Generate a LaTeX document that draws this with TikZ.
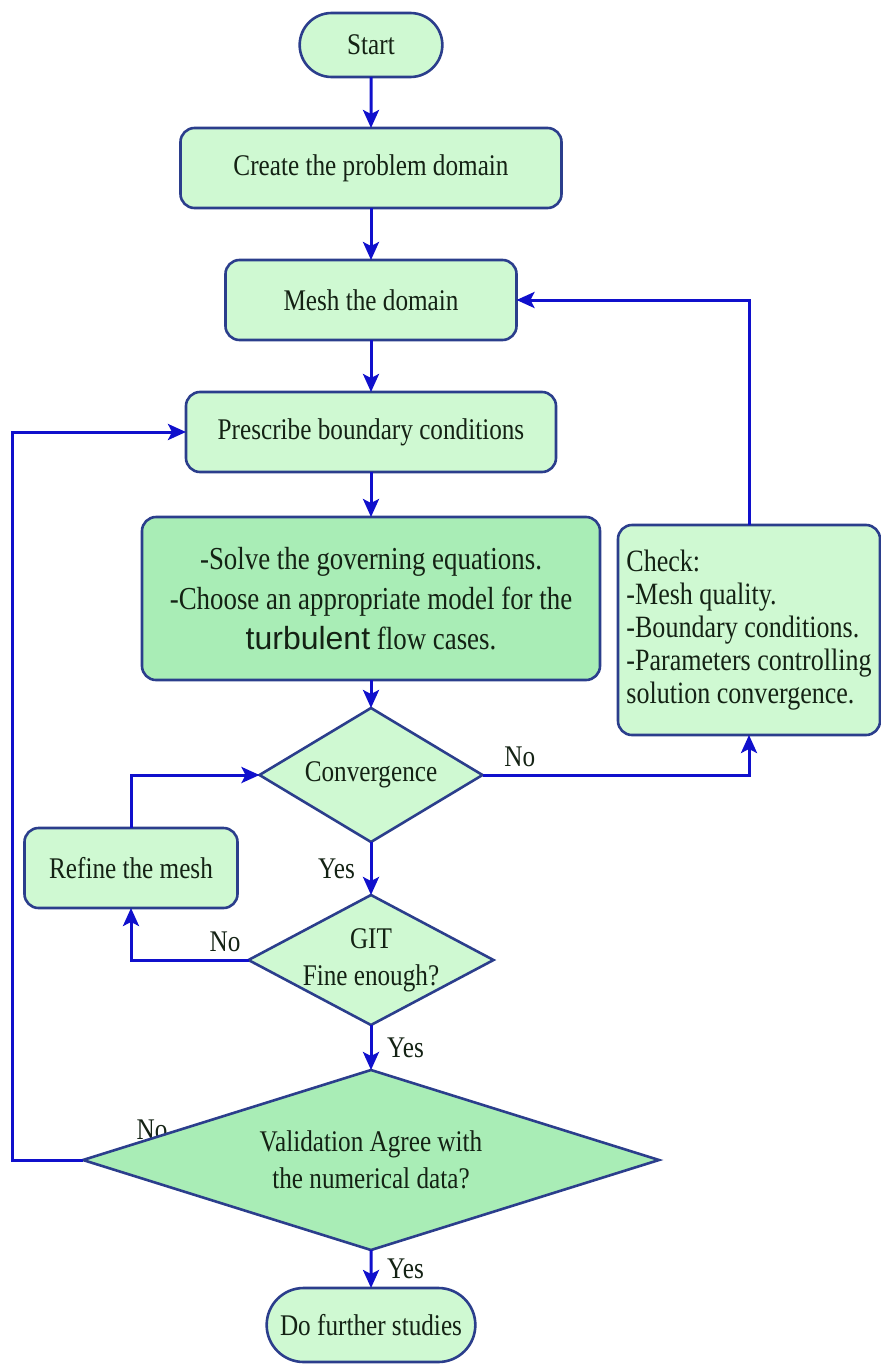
\documentclass[tikz,border=0pt]{standalone}
\usepackage{fontspec}
\setmainfont{Liberation Serif}[FakeStretch=0.84]
\newfontfamily\arialfont{Liberation Sans}
\usetikzlibrary{arrows.meta,positioning,shapes.geometric,shapes.misc}
\definecolor{mint}{HTML}{CFF9D2}
\definecolor{mintdark}{HTML}{A9EDB6}
\definecolor{edge}{HTML}{2B3E8C}
\definecolor{wire}{HTML}{1010CC}
\definecolor{ink}{HTML}{142214}

\begin{document}
\begin{tikzpicture}[x=0.5pt, y=-0.5pt,
  node distance=26pt,
  proc/.style={rectangle, rounded corners=7pt, draw=edge, line width=1.3pt, fill=mint, outer sep=0pt, align=center, text=ink, font=\fontsize{15}{17}\selectfont},
  term/.style={proc, rounded rectangle, sharp corners},
  dec/.style={proc, diamond, sharp corners, inner sep=-8pt, aspect=1.7, font=\fontsize{15}{18.5}\selectfont},
  link/.style={-{Stealth[length=9pt,width=8pt,inset=2pt]}, draw=wire, line width=1.5pt},
  lbl/.style={text=ink, font=\fontsize{15}{17}\selectfont}
]
\useasboundingbox (0,0) rectangle (881,1365);

% main column
\node[term, minimum width=78pt, minimum height=32pt] (start) at (371,45) {Start};
\node[proc, below=25.5pt of start, minimum width=190.5pt, minimum height=40pt] (create) {Create the problem domain};
\node[proc, below=26pt of create, minimum width=145.5pt, minimum height=40pt] (mesh) {Mesh the domain};
\node[proc, below=26pt of mesh, minimum width=185pt, minimum height=40pt] (bc) {Prescribe boundary conditions};
\node[proc, fill=mintdark, below=22.5pt of bc, minimum width=229pt, minimum height=81.5pt, font=\fontsize{16}{20}\selectfont] (solve)
  {-Solve the governing equations.\\-Choose an appropriate model for the\\{\arialfont turbulent} flow cases.};
\node[dec, below=14pt of solve, minimum width=111.5pt, minimum height=67pt] (conv) {Convergence};
\node[dec, below=26.5pt of conv, minimum width=122.5pt, minimum height=65pt] (git) {GIT\\Fine enough?};
\node[lbl] (valno) at (152,1130) {No};
\node[dec, fill=mintdark, below=22.5pt of git, minimum width=288pt, minimum height=90pt] (valid) {Validation Agree with\\the numerical data?};
\node[term, below=19pt of valid, minimum width=111pt, minimum height=37pt] (further) {Do further studies};

% side boxes
\node[proc, align=left, minimum width=131pt, minimum height=105pt, inner xsep=3pt, font=\fontsize{15.5}{16.5}\selectfont] (check) at (749,630)
  {Check:\\-Mesh quality.\\-Boundary conditions.\\-Parameters controlling\\solution convergence.};
\node[proc, minimum width=106.5pt, minimum height=40pt] (refine) at (131,868) {Refine the mesh};
\coordinate (back) at (12,1160);

% connectors
\draw[link] (start) -- (create);
\draw[link] (create) -- (mesh);
\draw[link] (mesh) -- (bc);
\draw[link] (bc) -- (solve);
\draw[link] (solve) -- (conv);
\draw[link] (conv) -- node[lbl, left, xshift=-4pt] {Yes} (git);
\draw[link] (git) -- node[lbl, right, xshift=4pt] {Yes} (valid);
\draw[link] (valid) -- node[lbl, right, xshift=4pt] {Yes} (further);
\draw[link] (conv.east) -| node[lbl, pos=0.07, above] {No} (check.south);
\draw[link] (check.north) |- (mesh.east);
\draw[link] (git.west) -| node[lbl, pos=0.1, above] {No} (refine.south);
\draw[link] (refine.north) |- (conv.west);
\draw[link] (valid.west) -- (valid.west -| back) |- (bc.west);
\end{tikzpicture}
\end{document}
